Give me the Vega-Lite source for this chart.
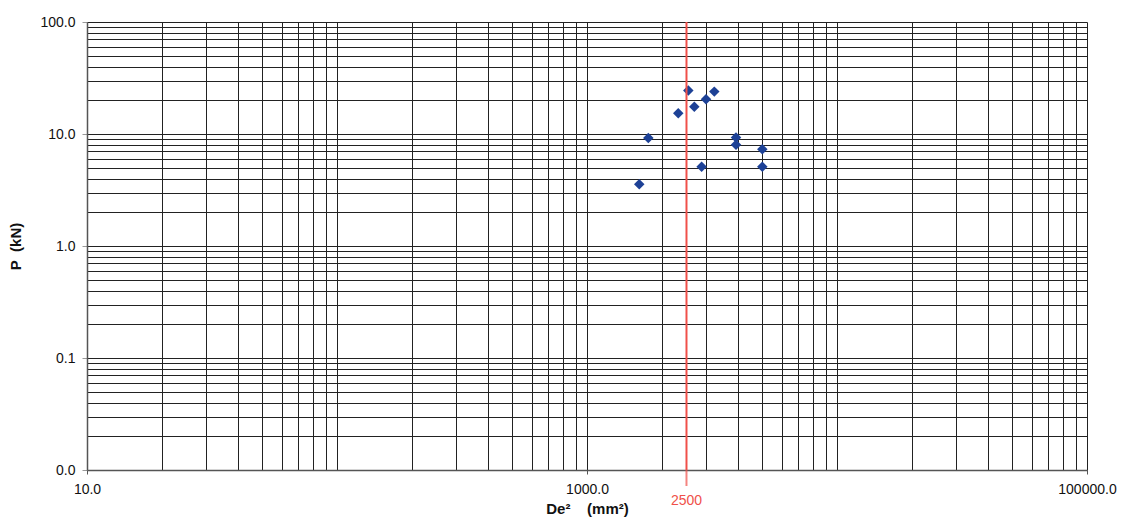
{
  "$schema": "https://vega.github.io/schema/vega-lite/v6.json",
  "width": 1000,
  "height": 448,
  "autosize": "none",
  "padding": {"left": 87, "top": 22, "right": 37, "bottom": 50},
  "background": "white",
  "config": {
    "view": {"stroke": null},
    "font": "Liberation Sans"
  },
  "layer": [
    {
      "data": {"values": [
        {"De2": 1618, "P": 3.56},
        {"De2": 1759, "P": 9.2},
        {"De2": 2318, "P": 15.3},
        {"De2": 2543, "P": 24.4},
        {"De2": 2687, "P": 17.5},
        {"De2": 2874, "P": 5.1},
        {"De2": 2993, "P": 20.4},
        {"De2": 3230, "P": 23.9},
        {"De2": 3945, "P": 9.3},
        {"De2": 3945, "P": 8.0},
        {"De2": 5026, "P": 7.3},
        {"De2": 5026, "P": 5.1}
      ]},
      "mark": {"type": "point", "shape": "diamond", "filled": true, "size": 110, "color": "#1d4196", "opacity": 1},
      "encoding": {
        "x": {
          "field": "De2", "type": "quantitative",
          "scale": {"type": "log", "domain": [10, 100000], "nice": false},
          "axis": {
            "values": [10,20,30,40,50,60,70,80,90,100,200,300,400,500,600,700,800,900,1000,2000,3000,4000,5000,6000,7000,8000,9000,10000,20000,30000,40000,50000,60000,70000,80000,90000,100000],
            "labelExpr": "indexof([10,1000,100000], datum.value) >= 0 ? format(datum.value, '.1f') : ''",
            "grid": true, "gridColor": "#222222", "gridWidth": 1, "gridOpacity": 1,
            "domainColor": "#555555", "domainWidth": 1.5,
            "tickColor": "#555555", "tickSize": 4,
            "tickOpacity": {"condition": {"test": "indexof([10,1000,100000], datum.value) >= 0", "value": 1}, "value": 0},
            "labelFontSize": 14, "labelColor": "#111111", "labelPadding": 8, "labelFlush": false, "labelOverlap": false,
            "title": "De²\u00a0\u00a0\u00a0\u00a0(mm²)", "titleFontSize": 15, "titleFontWeight": "bold", "titleColor": "#111111", "titlePadding": 5
          }
        },
        "y": {
          "field": "P", "type": "quantitative",
          "scale": {"type": "log", "domain": [0.01, 100], "nice": false},
          "axis": {
            "values": [0.01,0.02,0.03,0.04,0.05,0.06,0.07,0.08,0.09,0.1,0.2,0.3,0.4,0.5,0.6,0.7,0.8,0.9,1,2,3,4,5,6,7,8,9,10,20,30,40,50,60,70,80,90,100],
            "labelExpr": "indexof([0.01,0.1,1,10,100], datum.value) >= 0 ? format(datum.value, '.1f') : ''",
            "grid": true, "gridColor": "#222222", "gridWidth": 1, "gridOpacity": 1,
            "domainColor": "#555555", "domainWidth": 1.5,
            "tickColor": "#999999", "tickSize": 5,
            "tickOpacity": {"condition": {"test": "indexof([0.01,0.1,1,10,100], datum.value) >= 0", "value": 1}, "value": 0},
            "labelFontSize": 14, "labelColor": "#111111", "labelPadding": 7, "labelFlush": false, "labelOverlap": false,
            "title": "P\u00a0\u00a0(kN)", "titleFontSize": 15, "titleFontWeight": "bold", "titleColor": "#111111", "titlePadding": 16
          }
        }
      }
    },
    {
      "data": {"values": [{"x": 2500, "label": "2500", "ybottom": 0.01}]},
      "layer": [
        {
          "mark": {"type": "rule", "color": "#f0504a", "strokeWidth": 2},
          "encoding": {"x": {"field": "x", "type": "quantitative"}}
        },
        {
          "mark": {"type": "tick", "orient": "vertical", "color": "#f0504a", "thickness": 2, "size": 16, "yOffset": 8},
          "encoding": {
            "x": {"field": "x", "type": "quantitative"},
            "y": {"field": "ybottom", "type": "quantitative"}
          }
        },
        {
          "mark": {"type": "text", "color": "#f0504a", "fontSize": 14, "dy": 31, "align": "center"},
          "encoding": {
            "x": {"field": "x", "type": "quantitative"},
            "y": {"field": "ybottom", "type": "quantitative"},
            "text": {"field": "label"}
          }
        }
      ]
    }
  ]
}
